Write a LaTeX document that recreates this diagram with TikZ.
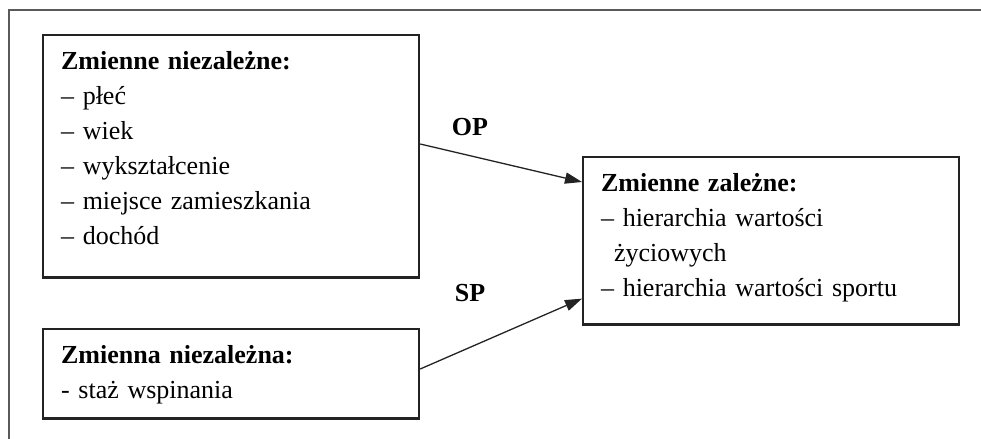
\documentclass[tikz,border=0pt]{standalone}
\usepackage{fontspec}
\setmainfont{Liberation Serif}
\usetikzlibrary{arrows.meta}
\definecolor{framegray}{RGB}{90, 90, 90}
\definecolor{boxline}{RGB}{35, 35, 35}

\begin{document}
\begin{tikzpicture}[x=0.5pt, y=-0.5pt, >={Triangle[length=8.5pt, width=5.6pt]},
    varbox/.style={draw=boxline, line width=1.1pt, anchor=north west, align=left,
        text width=170pt, inner xsep=9pt, inner ysep=8pt,
        font=\fontsize{13}{17.5}\selectfont},
    pathlabel/.style={font=\fontsize{13}{15}\selectfont\bfseries}]
        \useasboundingbox (0,0) rectangle (981,439);
        %\draw[red] (0,0) rectangle (981,439);
        \draw[framegray, line width=0.6pt] (9,439) -- (9,10) -- (981,10);

        \node[varbox, text depth=96.2pt] (indep) at (42,34)
        {\textbf{Zmienne niezależne:}\\ – płeć\\ – wiek\\ – wykształcenie\\
        – miejsce zamieszkania\\ – dochód};
        \node[varbox, text depth=19.7pt] (climb) at (42,328)
        {\textbf{Zmienna niezależna:}\\ - staż wspinania};
        \node[varbox, text depth=58.7pt] (dep) at (582,156)
        {\textbf{Zmienne zależne:}\\ – hierarchia wartości\\
        \hspace*{6.5pt}życiowych\\ – hierarchia wartości sportu};

        \node[pathlabel] (op) at (470,127) {OP};
        \node[pathlabel] (sp) at (470,293) {SP};

        \draw[->, boxline, line width=0.65pt] ([yshift=-55pt]indep.north east)
        -- ([yshift=-13pt]dep.north west);
        \draw[->, boxline, line width=0.65pt] ([yshift=-20.5pt]climb.north east)
        -- ([yshift=13.5pt]dep.south west);
\end{tikzpicture}
\end{document}
